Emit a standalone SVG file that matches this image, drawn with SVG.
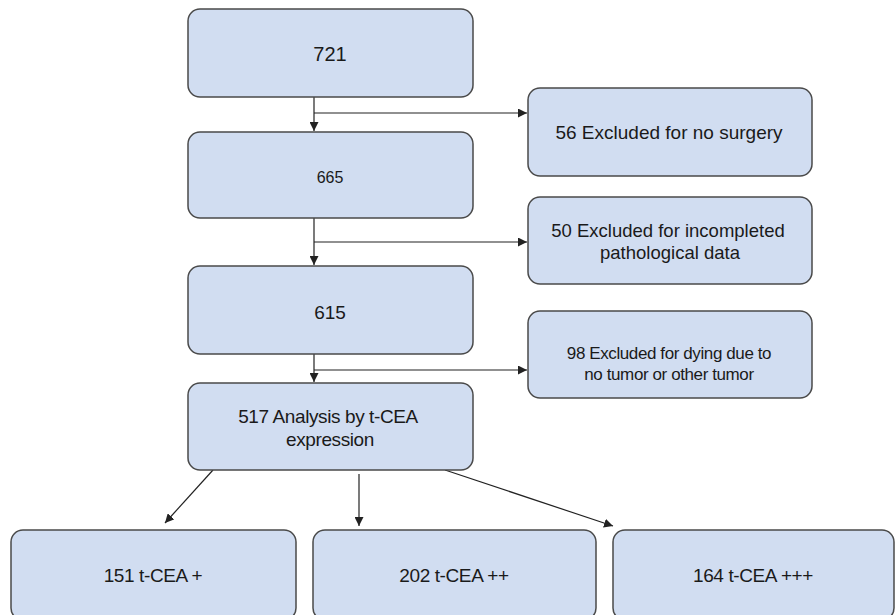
<svg xmlns="http://www.w3.org/2000/svg" width="896" height="615" viewBox="0 0 896 615">
<style>
.box{fill:#d1ddf1;stroke:#4a4a4a;stroke-width:1.5}
.t{font-family:"Liberation Sans",Arial,sans-serif;font-size:19px;fill:#1a1a1a;text-anchor:middle}
.s{font-size:16px}
.c{letter-spacing:-0.4px}
.ln{stroke:#222;stroke-width:1.2;fill:none;marker-end:url(#ah)}
</style>
<defs>
<marker id="ah" viewBox="0 0 10 10" refX="10" refY="5" markerWidth="9" markerHeight="9" markerUnits="userSpaceOnUse" orient="auto"><path d="M0,0 L10,5 L0,10 z" fill="#222"/></marker>
</defs>
<rect width="896" height="615" fill="#fff"/>
<g id="connectors">
<line class="ln" x1="314" y1="97" x2="314" y2="131"/>
<line class="ln" x1="314" y1="113" x2="527" y2="113"/>
<line class="ln" x1="314" y1="218" x2="314" y2="265"/>
<line class="ln" x1="314" y1="242" x2="527" y2="242"/>
<line class="ln" x1="314" y1="354" x2="314" y2="382"/>
<line class="ln" x1="314" y1="370" x2="527" y2="370"/>
<line class="ln" x1="213" y1="470" x2="165" y2="523"/>
<line class="ln" x1="359" y1="474" x2="359" y2="526"/>
<line class="ln" x1="445" y1="470" x2="613" y2="526"/>
</g>
<g id="n721"><rect class="box" x="188" y="9" width="285" height="88" rx="12"/><text class="t" x="330" y="61" style="font-size:20px">721</text></g>
<g id="n665"><rect class="box" x="188" y="132" width="285" height="86" rx="12"/><text class="t s" x="330" y="183">665</text></g>
<g id="n615"><rect class="box" x="188" y="266" width="285" height="88" rx="12"/><text class="t" x="330" y="319">615</text></g>
<g id="n517"><rect class="box" x="188" y="383" width="285" height="87" rx="12"/><text class="t c" x="328" y="423">517 Analysis by t-CEA</text><text class="t c" x="330" y="446">expression</text></g>
<g id="ex56"><rect class="box" x="528" y="88" width="284" height="88" rx="12"/><text class="t" x="669" y="139">56 Excluded for no surgery</text></g>
<g id="ex50"><rect class="box" x="528" y="197" width="284" height="87" rx="12"/><text class="t" x="668" y="237" style="font-size:18.5px">50 Excluded for incompleted</text><text class="t" x="670" y="259" style="font-size:18.5px">pathological data</text></g>
<g id="ex98"><rect class="box" x="528" y="311" width="284" height="87" rx="12"/><text class="t c" x="669" y="359" style="font-size:17px">98 Excluded for dying  due to</text><text class="t c" x="669" y="380" style="font-size:17px">no tumor or other tumor</text></g>
<g id="b151"><rect class="box" x="11" y="530" width="285" height="90" rx="12"/><text class="t c" x="153" y="582">151 t-CEA +</text></g>
<g id="b202"><rect class="box" x="313" y="530" width="283" height="90" rx="12"/><text class="t c" x="454" y="582">202 t-CEA ++</text></g>
<g id="b164"><rect class="box" x="613" y="530" width="281" height="90" rx="12"/><text class="t c" x="753" y="582">164 t-CEA +++</text></g>
</svg>
